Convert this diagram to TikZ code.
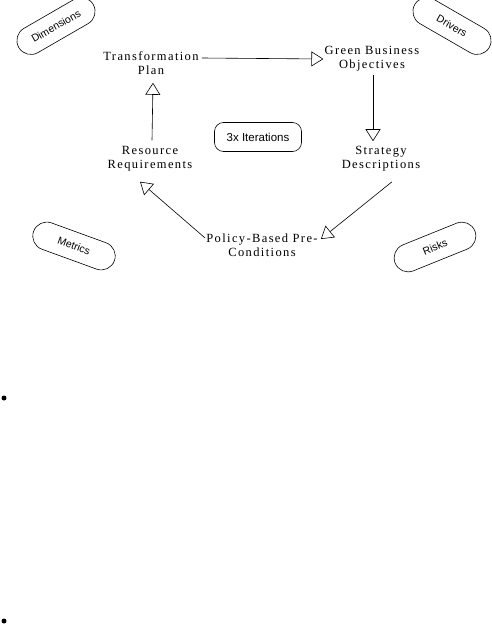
\documentclass[tikz,border=0pt]{standalone}
\usepackage{fontspec}
\setmainfont{Liberation Serif}[LetterSpace=11]
\setsansfont{Liberation Sans}
\usepackage{tikz}
\usetikzlibrary{arrows.meta, positioning, calc}
\tikzset{
  stage/.style={align=center, inner sep=0pt, font=\fontsize{12.5}{14}\selectfont},
  oval/.style={draw, rounded corners=14pt, minimum width=86pt, minimum height=28pt, inner sep=0pt, font=\sffamily\fontsize{10.5}{12}\selectfont},
  iterbox/.style={draw, rounded corners=9pt, minimum width=87pt, minimum height=29pt, inner sep=0pt, font=\sffamily\fontsize{11.5}{12}\selectfont},
  arrow/.style={-{Triangle[open, length=12pt, width=15pt]}, line width=0.6pt},
}

\begin{document}
\begin{tikzpicture}[x=1pt, y=-1pt, line width=0.6pt]
  \useasboundingbox (0,0) rectangle (491,624);

  % Cycle stages
  \node[stage] (tplan) at (151, 63) {Transformation\\Plan};
  \node[stage] (gbo) at (372, 59) {Green Business\\Objectives};
  \node[stage] (strat) at (381, 159) {Strategy\\Descriptions};
  \node[stage] (policy) at (262, 245) {Policy-Based Pre-\\Conditions};
  \node[stage] (resreq) at (150, 159) {Resource\\Requirements};

  % Centre
  \node[iterbox] (iter) at (258, 137) {3x Iterations};

  % Corner ovals
  \node[oval, rotate=30] (dims) at (56, 26) {Dimensions};
  \node[oval, rotate=-30] (drivers) at (452, 26) {Drivers};
  \node[oval, rotate=-20] (metrics) at (74, 246) {Metrics};
  \node[oval, rotate=22] (risks) at (435, 247) {Risks};

  % Connectors
  \draw[arrow] ($(tplan.east)+(3,-5)$) -- ($(gbo.west)+(-1,0)$);
  \draw[arrow] ($(gbo.south)+(1,3)$) -- ($(gbo.south |- strat.north)+(1,-5)$);
  \draw[arrow] ($(strat.south)+(11,10)$) -- ($(policy.east)+(3,-6)$);
  \draw[arrow] ($(policy.west)+(-1,-7)$) -- ($(resreq.south)+(-10,10)$);
  \draw[arrow] ($(resreq.north)+(2,-6)$) -- ($(tplan.south)+(2,8)$);

  % Stray bullets
  \fill (4, 398) circle (2.5);
  \fill (4, 621) circle (2.5);
\end{tikzpicture}
\end{document}
